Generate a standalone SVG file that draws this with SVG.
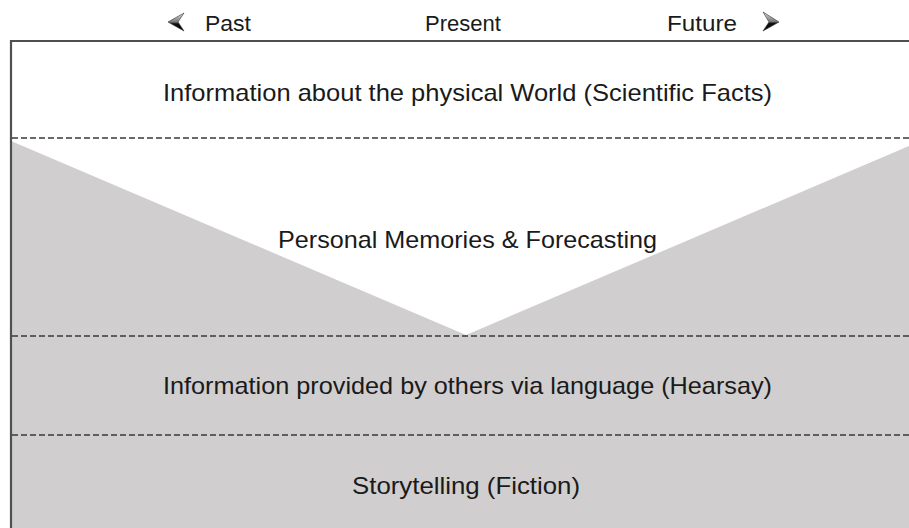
<svg xmlns="http://www.w3.org/2000/svg" width="909" height="528" viewBox="0 0 909 528">
  <defs>
    <style>
      .lbl { font-family: "Liberation Sans", Arial, sans-serif; font-size: 24px; fill: #1a1a1a; text-anchor: middle; }
      .hdr { font-family: "Liberation Sans", Arial, sans-serif; font-size: 22px; fill: #1a1a1a; text-anchor: middle; }
      .divider { stroke: #3a3a3a; stroke-width: 1.7; stroke-dasharray: 6 3; fill: none; }
      .frame { stroke: #505050; stroke-width: 2.2; fill: none; }
      .tip { stroke: #333; stroke-width: 0.6; stroke-linejoin: miter; }
    </style>
    <linearGradient id="arrowShade" x1="0" y1="0" x2="0" y2="1">
      <stop offset="0" stop-color="#e0e0e0"/>
      <stop offset="0.5" stop-color="#777"/>
      <stop offset="0.6" stop-color="#111"/>
      <stop offset="1" stop-color="#000"/>
    </linearGradient>
  </defs>

  <rect width="909" height="528" fill="#ffffff"/>

  <!-- shaded band with the V-shaped cut-out -->
  <polygon id="shade" points="11,141 466,335 909,146 909,528 11,528" fill="#d0cece"/>

  <!-- time axis header -->
  <g id="axis">
    <polygon class="tip" points="168,22 184,13 178,22 184,31" fill="url(#arrowShade)"/>
    <text class="hdr" x="228" y="31" textLength="46" lengthAdjust="spacingAndGlyphs">Past</text>
    <text class="hdr" x="463" y="31" textLength="76" lengthAdjust="spacingAndGlyphs">Present</text>
    <text class="hdr" x="702" y="31" textLength="70" lengthAdjust="spacingAndGlyphs">Future</text>
    <polygon class="tip" points="763,12 779,22 763,31 769,22" fill="url(#arrowShade)"/>
  </g>

  <!-- outer frame -->
  <g id="frame">
    <path class="frame" d="M11,528 V41 H909"/>
  </g>

  <!-- band dividers -->
  <g id="connectors">
    <line class="divider" x1="12" y1="138" x2="909" y2="138"/>
    <line class="divider" x1="12" y1="336" x2="909" y2="336"/>
    <line class="divider" x1="12" y1="435" x2="909" y2="435"/>
  </g>

  <g id="scientific">
    <text class="lbl" x="467.5" y="101" textLength="609" lengthAdjust="spacingAndGlyphs">Information about the physical World (Scientific Facts)</text>
  </g>
  <g id="personal">
    <text class="lbl" x="467.5" y="248" textLength="379" lengthAdjust="spacingAndGlyphs">Personal Memories &amp; Forecasting</text>
  </g>
  <g id="hearsay">
    <text class="lbl" x="467.5" y="394" textLength="609" lengthAdjust="spacingAndGlyphs">Information provided by others via language (Hearsay)</text>
  </g>
  <g id="fiction">
    <text class="lbl" x="466" y="494" textLength="228" lengthAdjust="spacingAndGlyphs">Storytelling (Fiction)</text>
  </g>
</svg>
